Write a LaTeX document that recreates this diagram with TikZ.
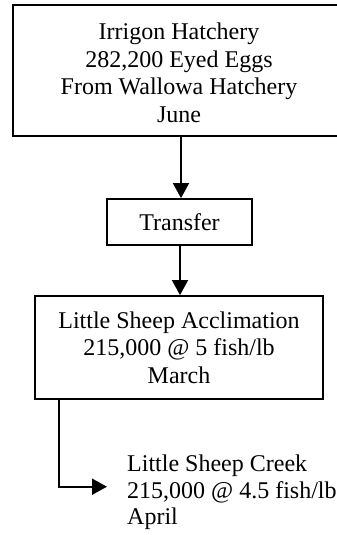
\documentclass[tikz,border=0pt]{standalone}
\usepackage{fontspec}
\setmainfont{Liberation Serif}
\usetikzlibrary{arrows.meta}
\begin{document}
\begin{tikzpicture}[x=1pt,y=-1pt,
  box/.style={draw,line width=1.8pt,inner sep=0pt,align=center,font=\fontsize{24}{27.5}\selectfont},
  plain/.style={inner xsep=20pt,inner ysep=0pt,align=left,font=\fontsize{24}{26.5}\selectfont},
  flow/.style={line width=1.8pt,-{Triangle[length=15pt,width=16pt]}}]
\useasboundingbox (0,0) rectangle (337,535);
\clip (0,0) rectangle (337,535);
\node[box,minimum width=332pt,minimum height=131pt] (hatch) at (179,70.5)
  {\rule{0pt}{21pt}Irrigon Hatchery\\282,200 Eyed Eggs\\From Wallowa Hatchery\\June};
\node[box,minimum width=145pt,minimum height=46pt] (transfer) at (179.5,222) {Transfer};
\node[box,minimum width=288pt,minimum height=103pt] (accl) at (179,347.5)
  {Little Sheep Acclimation\\215,000 @ 5 fish/lb\\March};
\node[plain,anchor=west] (creek) at (107,492.5)
  {Little Sheep Creek\\215,000 @ 4.5 fish/lb\\April};
\draw[flow] ([xshift=2pt]hatch.south) -- ([xshift=1.5pt]transfer.north);
\draw[flow] ([xshift=0.5pt]transfer.south) -- ([xshift=1pt]accl.north);
\draw[flow] ([xshift=-120pt]accl.south) |- ([yshift=5.8pt]creek.west);
\end{tikzpicture}
\end{document}
